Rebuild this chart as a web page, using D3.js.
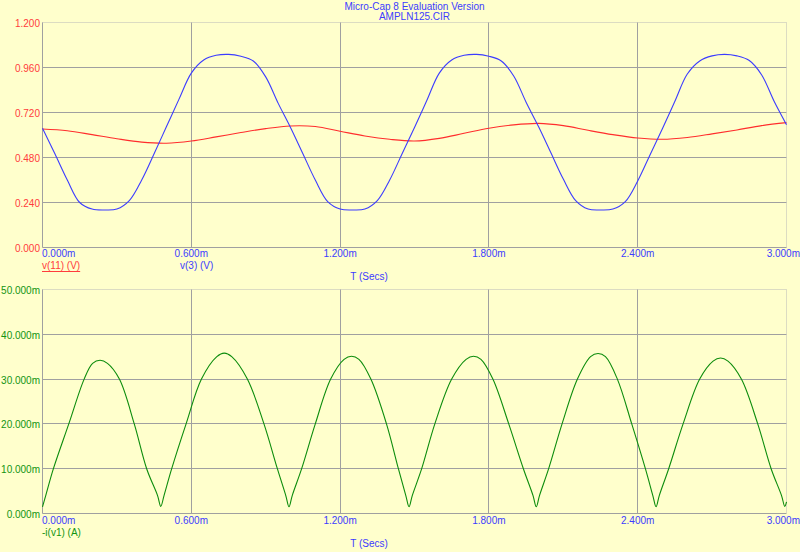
<!DOCTYPE html>
<html>
<head>
<meta charset="utf-8">
<script src="https://cdn.jsdelivr.net/npm/d3@7/dist/d3.min.js"></script>
<style>
    html, body { margin: 0; padding: 0; background: #ffffcc; }
    svg { display: block; font-family: "Liberation Sans", Arial, sans-serif; font-size: 10px; }
</style>
</head>
<body>
<script>
const WIDTH = 800;
const HEIGHT = 552;
const PLOT_LEFT = 42.5;
const PLOT_RIGHT = 786.5;

const titleLines = ['Micro-Cap 8 Evaluation Version', 'AMPLN125.CIR'];

// time axis, ms
const timeTicks = [0, 0.6, 1.2, 1.8, 2.4, 3.0];
const timeTickLabels = ['0.000m', '0.600m', '1.200m', '1.800m', '2.400m', '3.000m'];

const voltTicks = [0, 0.24, 0.48, 0.72, 0.96, 1.2];
const voltTickLabels = ['0.000', '0.240', '0.480', '0.720', '0.960', '1.200'];

// current axis, mA
const currentTicks = [0, 10, 20, 30, 40, 50];
const currentTickLabels = ['0.000m', '10.000m', '20.000m', '30.000m', '40.000m', '50.000m'];

// v(3) [t ms, V]
const v3 = [
    [0.00, 0.636], [0.05, 0.50], [0.10, 0.36], [0.15, 0.24], [0.20, 0.205], [0.25, 0.200],
    [0.30, 0.205], [0.35, 0.25], [0.40, 0.36], [0.45, 0.50], [0.50, 0.645], [0.55, 0.79],
    [0.60, 0.93], [0.65, 1.00], [0.70, 1.025], [0.75, 1.030], [0.80, 1.020], [0.85, 0.995],
    [0.90, 0.91], [0.95, 0.77],
    [1.00, 0.64], [1.05, 0.50], [1.10, 0.36], [1.15, 0.245], [1.20, 0.205], [1.25, 0.200],
    [1.30, 0.205], [1.35, 0.25], [1.40, 0.36], [1.45, 0.50], [1.50, 0.64], [1.55, 0.785],
    [1.60, 0.93], [1.65, 1.00], [1.70, 1.025], [1.75, 1.030], [1.80, 1.020], [1.85, 0.995],
    [1.90, 0.915], [1.95, 0.775],
    [2.00, 0.645], [2.05, 0.505], [2.10, 0.365], [2.15, 0.25], [2.20, 0.205], [2.25, 0.200],
    [2.30, 0.205], [2.35, 0.245], [2.40, 0.355], [2.45, 0.495], [2.50, 0.635], [2.55, 0.78],
    [2.60, 0.925], [2.65, 0.995], [2.70, 1.022], [2.75, 1.030], [2.80, 1.022], [2.85, 0.997],
    [2.90, 0.92], [2.95, 0.78], [3.00, 0.655]
];

// v(11) [t ms, V]
const v11 = [
    [0.0, 0.632], [0.1, 0.623], [0.2, 0.602], [0.3, 0.580], [0.4, 0.562], [0.5, 0.556],
    [0.6, 0.568], [0.7, 0.590], [0.8, 0.613], [0.9, 0.634], [1.0, 0.648], [1.1, 0.645],
    [1.2, 0.620], [1.3, 0.595], [1.4, 0.577], [1.5, 0.568], [1.6, 0.582], [1.7, 0.609],
    [1.8, 0.636], [1.9, 0.654], [2.0, 0.662], [2.1, 0.650], [2.2, 0.625], [2.3, 0.602],
    [2.4, 0.584], [2.5, 0.577], [2.6, 0.587], [2.7, 0.606], [2.8, 0.627], [2.9, 0.650],
    [3.0, 0.666]
];

// -i(v1) [t ms, mA]
const iv1 = [
    [0.000, 1.5], [0.013, 4.0], [0.044, 10], [0.106, 20], [0.168, 30], [0.202, 33.5],
    [0.232, 34.2], [0.262, 33.5], [0.310, 30], [0.370, 20], [0.420, 10], [0.464, 4.0], [0.477, 1.6],
    [0.490, 4.0], [0.521, 10], [0.579, 20], [0.641, 30], [0.703, 35.0],
    [0.733, 35.8], [0.763, 35.0], [0.826, 30], [0.893, 20], [0.947, 10], [0.981, 4.0], [0.994, 1.5],
    [1.007, 4.0], [1.045, 10], [1.100, 20], [1.162, 30], [1.216, 34.4],
    [1.246, 35.1], [1.276, 34.4], [1.324, 30], [1.387, 20], [1.435, 10], [1.465, 4.0], [1.478, 1.5],
    [1.491, 4.0], [1.529, 10], [1.582, 20], [1.650, 30], [1.708, 34.4],
    [1.738, 35.1], [1.768, 34.4], [1.816, 30], [1.880, 20], [1.939, 10], [1.978, 4.0], [1.991, 1.5],
    [2.004, 4.0], [2.041, 10], [2.095, 20], [2.157, 30], [2.210, 35.0],
    [2.240, 35.7], [2.270, 35.0], [2.318, 30], [2.376, 20], [2.431, 10], [2.461, 4.0], [2.474, 1.5],
    [2.487, 4.0], [2.525, 10], [2.583, 20], [2.650, 30], [2.704, 34.0],
    [2.734, 34.7], [2.764, 34.0], [2.818, 30], [2.884, 20], [2.938, 10], [2.980, 4.0], [2.993, 1.6],
    [3.000, 2.6]
];

const GRID = '#a0a0a0';
const BLUE = '#3c3cff';

const svg = d3.select('body').append('svg')
    .attr('width', WIDTH)
    .attr('height', HEIGHT);

svg.append('rect')
    .attr('width', WIDTH)
    .attr('height', HEIGHT)
    .attr('fill', '#ffffcc');

svg.selectAll('text.title')
    .data(titleLines)
    .join('text')
    .attr('class', 'title')
    .attr('x', (PLOT_LEFT + PLOT_RIGHT) / 2)
    .attr('y', (d, i) => 9.5 + i * 10.5)
    .attr('text-anchor', 'middle')
    .attr('fill', BLUE)
    .text(d => d);

const x = d3.scaleLinear().domain([0, 3]).range([PLOT_LEFT, PLOT_RIGHT]);
const crisp = v => Math.round(v - 0.5) + 0.5;

function panel({top, bottom, yDomain, yTicks, yLabels, yColor, series, legends, xLabelY, titleY}){
    const y = d3.scaleLinear().domain(yDomain).range([bottom, top]);
    const g = svg.append('g');

    // grid, inner lines solid, top and right edges dotted
    yTicks.forEach((t, i) => {
        const edge = i === yTicks.length - 1;
        g.append('line')
            .attr('x1', PLOT_LEFT).attr('x2', PLOT_RIGHT)
            .attr('y1', crisp(y(t))).attr('y2', crisp(y(t)))
            .attr('stroke', edge ? '#b8b8b8' : GRID)
            .attr('stroke-dasharray', edge ? '1,1' : null);
    });
    timeTicks.forEach((t, i) => {
        const edge = i === timeTicks.length - 1;
        g.append('line')
            .attr('x1', crisp(x(t))).attr('x2', crisp(x(t)))
            .attr('y1', top).attr('y2', bottom)
            .attr('stroke', edge ? '#b8b8b8' : GRID)
            .attr('stroke-dasharray', edge ? '1,1' : null);
    });

    g.selectAll('text.ylab')
        .data(yTicks)
        .join('text')
        .attr('class', 'ylab')
        .attr('x', 40)
        .attr('y', d => crisp(y(d)) + 4)
        .attr('text-anchor', 'end')
        .attr('fill', yColor)
        .text((d, i) => yLabels[i]);

    g.selectAll('text.xlab')
        .data(timeTicks)
        .join('text')
        .attr('class', 'xlab')
        .attr('x', (d, i) => i === 0 ? 42 : (i === timeTicks.length - 1 ? WIDTH : x(d)))
        .attr('y', xLabelY)
        .attr('text-anchor', (d, i) => i === 0 ? 'start' : (i === timeTicks.length - 1 ? 'end' : 'middle'))
        .attr('fill', BLUE)
        .text((d, i) => timeTickLabels[i]);

    const line = d3.line()
        .x(d => x(d[0]))
        .y(d => y(d[1]))
        .curve(d3.curveCatmullRom.alpha(0.5));

    series.forEach(s => {
        g.append('path')
            .datum(s.data)
            .attr('fill', 'none')
            .attr('stroke', s.color)
            .attr('stroke-width', 1.1)
            .attr('d', line);
    });

    legends.forEach(l => {
        const t = g.append('text')
            .attr('x', l.x)
            .attr('y', xLabelY + 12)
            .attr('fill', l.color)
            .text(l.text);
        if(l.underline){
            const w = t.node().getComputedTextLength();
            g.append('line')
                .attr('x1', l.x).attr('x2', l.x + w)
                .attr('y1', xLabelY + 14.5).attr('y2', xLabelY + 14.5)
                .attr('stroke', l.color);
        }
    });

    g.append('text')
        .attr('x', 369)
        .attr('y', titleY)
        .attr('text-anchor', 'middle')
        .attr('fill', BLUE)
        .text('T (Secs)');
}

panel({
    top: 22.5,
    bottom: 247.5,
    yDomain: [0, 1.2],
    yTicks: voltTicks,
    yLabels: voltTickLabels,
    yColor: '#ff3c3c',
    series: [
        {data: v11, color: '#ff2d2d'},
        {data: v3, color: '#3c3cff'}
    ],
    legends: [
        {text: 'v(11) (V)', x: 42, color: '#ff3c3c', underline: true},
        {text: 'v(3) (V)', x: 180, color: BLUE}
    ],
    xLabelY: 257,
    titleY: 280
});

panel({
    top: 289.5,
    bottom: 513.5,
    yDomain: [0, 50],
    yTicks: currentTicks,
    yLabels: currentTickLabels,
    yColor: '#129412',
    series: [
        {data: iv1, color: '#0c8c0c'}
    ],
    legends: [
        {text: '-i(v1) (A)', x: 42, color: '#129412'}
    ],
    xLabelY: 524,
    titleY: 547
});
</script>
</body>
</html>
